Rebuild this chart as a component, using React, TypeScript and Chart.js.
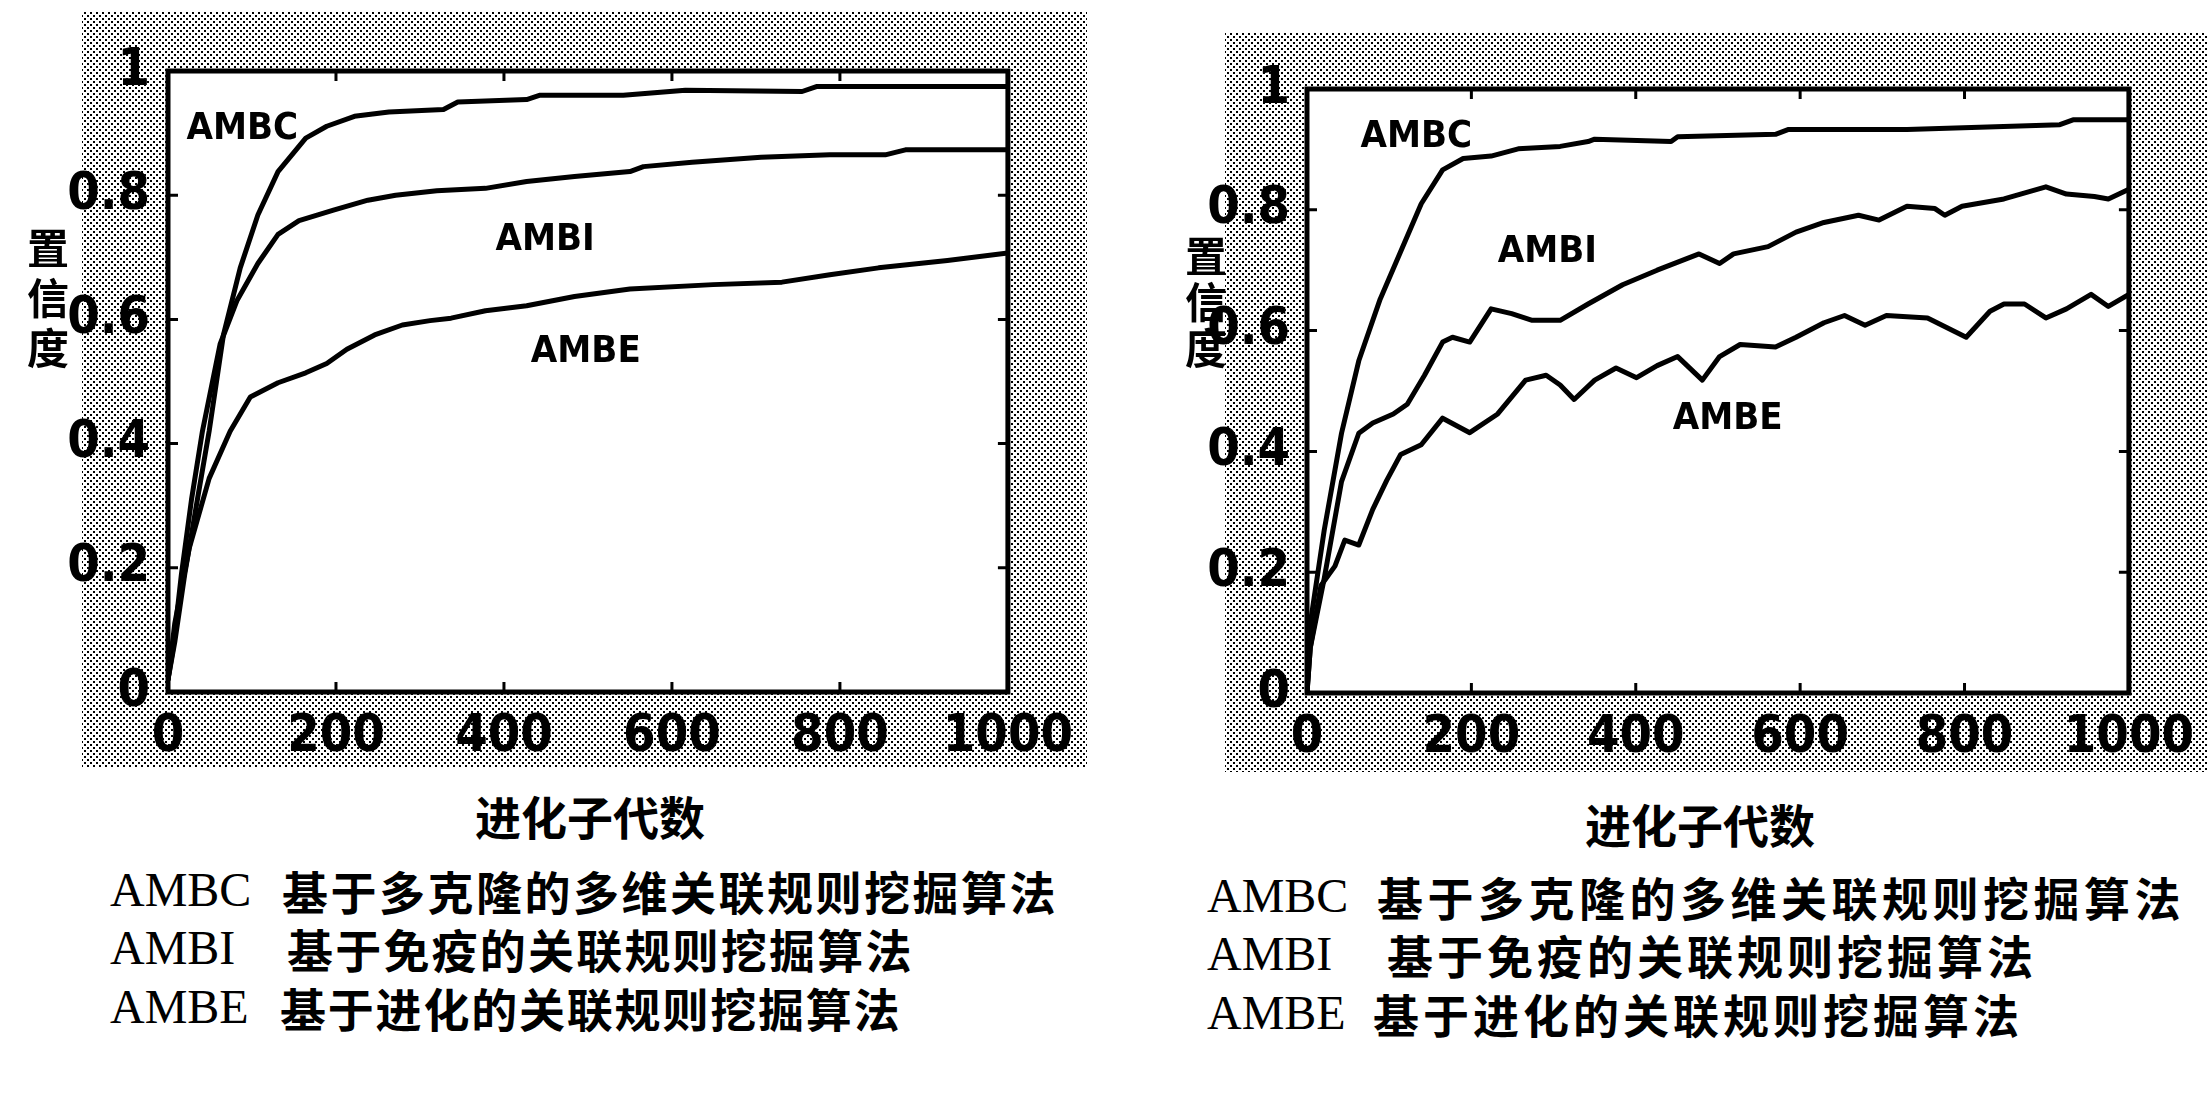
import React, { useEffect, useRef } from "react";
import { Chart, registerables } from "chart.js";
Chart.register(...registerables);

// ---------- data ----------
const seriesNames = ["AMBC", "AMBI", "AMBE"];
const xTickValues = [0, 200, 400, 600, 800, 1000];
const yTickValues = [0, 0.2, 0.4, 0.6, 0.8, 1];

// left panel
const leftAmbcX = [0, 8, 20, 35, 49, 66, 86, 107, 131, 164, 189, 222, 263, 328, 345, 427, 443, 542, 616, 755, 772, 1000];
const leftAmbcY = [0.02, 0.08, 0.19, 0.31, 0.42, 0.575, 0.683, 0.768, 0.838, 0.892, 0.911, 0.927, 0.934, 0.938, 0.95, 0.954, 0.961, 0.961, 0.969, 0.967, 0.975, 0.975];
const leftAmbiX = [0, 6, 16, 28, 41, 62, 82, 107, 131, 156, 197, 238, 271, 320, 378, 427, 484, 550, 566, 624, 706, 788, 854, 878, 1000];
const leftAmbiY = [0.02, 0.07, 0.19, 0.31, 0.42, 0.56, 0.63, 0.69, 0.737, 0.759, 0.776, 0.792, 0.8, 0.807, 0.811, 0.822, 0.83, 0.838, 0.846, 0.853, 0.861, 0.865, 0.865, 0.873, 0.873];
const leftAmbeX = [0, 8, 25, 49, 74, 98, 131, 164, 189, 213, 246, 279, 312, 337, 378, 427, 484, 550, 649, 731, 788, 846, 928, 1000];
const leftAmbeY = [0.02, 0.11, 0.23, 0.344, 0.42, 0.475, 0.498, 0.514, 0.529, 0.552, 0.575, 0.591, 0.598, 0.602, 0.614, 0.622, 0.637, 0.649, 0.656, 0.66, 0.672, 0.683, 0.695, 0.707];
const leftLabelX = [22, 390, 432];
const leftLabelY = [0.907, 0.727, 0.547];

// right panel
const rightAmbcX = [0, 4, 21, 42, 63, 89, 114, 139, 165, 190, 224, 257, 308, 342, 350, 443, 451, 570, 586, 730, 916, 932, 1000];
const rightAmbcY = [0, 0.115, 0.27, 0.43, 0.55, 0.652, 0.731, 0.81, 0.866, 0.885, 0.889, 0.901, 0.905, 0.913, 0.917, 0.913, 0.921, 0.925, 0.933, 0.933, 0.941, 0.949, 0.949];
const rightAmbiX = [0, 4, 21, 42, 63, 80, 105, 122, 143, 165, 177, 198, 224, 249, 274, 308, 342, 384, 426, 477, 502, 519, 561, 595, 629, 671, 696, 730, 764, 776, 797, 848, 899, 924, 958, 975, 1000];
const rightAmbiY = [0, 0.075, 0.19, 0.35, 0.43, 0.447, 0.462, 0.478, 0.526, 0.581, 0.589, 0.581, 0.636, 0.628, 0.617, 0.617, 0.644, 0.676, 0.7, 0.727, 0.711, 0.727, 0.739, 0.763, 0.779, 0.791, 0.783, 0.806, 0.802, 0.791, 0.806, 0.818, 0.838, 0.826, 0.822, 0.818, 0.834];
const rightAmbeX = [0, 4, 17, 34, 46, 63, 80, 97, 114, 139, 165, 198, 232, 266, 291, 308, 325, 350, 376, 401, 426, 451, 481, 502, 527, 570, 595, 629, 654, 679, 705, 755, 802, 831, 848, 873, 899, 924, 954, 975, 1000];
const rightAmbeY = [0, 0.075, 0.178, 0.21, 0.253, 0.245, 0.304, 0.352, 0.395, 0.411, 0.455, 0.431, 0.462, 0.518, 0.526, 0.51, 0.486, 0.518, 0.538, 0.522, 0.542, 0.557, 0.518, 0.557, 0.577, 0.573, 0.589, 0.613, 0.625, 0.609, 0.625, 0.621, 0.589, 0.632, 0.644, 0.644, 0.621, 0.636, 0.66, 0.64, 0.66];
const rightLabelX = [65, 232, 445];
const rightLabelY = [0.92, 0.73, 0.453];

// texts
const yTitleChars = ["置", "信", "度"];
const xTitle = "进化子代数";
const legendCodes = ["AMBC", "AMBI", "AMBE"];
const legendDescs = ["基于多克隆的多维关联规则挖掘算法", "基于免疫的关联规则挖掘算法", "基于进化的关联规则挖掘算法"];

// ---------- helpers ----------
const TICK_FONT = "'Liberation Sans Narrow', 'DejaVu Sans Condensed', 'Liberation Sans', sans-serif";
const CJK_FONT = "'Noto Sans CJK SC', sans-serif";
const SERIF_FONT = "'Liberation Serif', 'DejaVu Serif', serif";

function zip(xs: number[], ys: number[]) {
  return xs.map((x, i) => ({ x, y: ys[i] }));
}

function makePattern(ctx: CanvasRenderingContext2D) {
  const c = document.createElement("canvas");
  c.width = 6;
  c.height = 6;
  const g = c.getContext("2d")!;
  g.fillStyle = "#ffffff";
  g.fillRect(0, 0, 6, 6);
  g.fillStyle = "#000000";
  g.fillRect(0, 0, 2, 2);
  g.fillRect(3, 3, 2, 2);
  return ctx.createPattern(c, "repeat")!;
}

const decorPlugin = {
  id: "decor",
  beforeDraw(chart: any, _args: any, opts: any) {
    const ctx = chart.ctx as CanvasRenderingContext2D;
    const a = chart.chartArea;
    ctx.save();
    ctx.fillStyle = makePattern(ctx);
    ctx.fillRect(opts.grayX, 0, chart.width - opts.grayX, chart.height);
    ctx.fillStyle = "#ffffff";
    ctx.fillRect(a.left, a.top, a.right - a.left, a.bottom - a.top);
    ctx.restore();
  },
  afterDatasetsDraw(chart: any, _args: any, opts: any) {
    const ctx = chart.ctx as CanvasRenderingContext2D;
    const a = chart.chartArea;
    const xs = chart.scales.x;
    const ys = chart.scales.y;
    ctx.save();
    ctx.strokeStyle = "#000";
    ctx.lineWidth = 3;
    const tl = 10;
    xs.ticks.forEach((t: any) => {
      const px = xs.getPixelForValue(t.value);
      ctx.beginPath();
      ctx.moveTo(px, a.bottom);
      ctx.lineTo(px, a.bottom - tl);
      ctx.moveTo(px, a.top);
      ctx.lineTo(px, a.top + tl);
      ctx.stroke();
    });
    ys.ticks.forEach((t: any) => {
      const py = ys.getPixelForValue(t.value);
      ctx.beginPath();
      ctx.moveTo(a.left, py);
      ctx.lineTo(a.left + tl, py);
      ctx.moveTo(a.right, py);
      ctx.lineTo(a.right - tl, py);
      ctx.stroke();
    });
    ctx.lineWidth = 5;
    ctx.strokeRect(a.left, a.top, a.right - a.left, a.bottom - a.top);
    // curve name labels
    ctx.fillStyle = "#000";
    ctx.font = `bold 38px ${TICK_FONT}`;
    ctx.textAlign = "left";
    ctx.textBaseline = "middle";
    const lx: number[] = opts.labelX;
    const ly: number[] = opts.labelY;
    seriesNames.forEach((n, i) => {
      ctx.fillText(n, xs.getPixelForValue(lx[i]), ys.getPixelForValue(ly[i]));
    });
    ctx.restore();
  },
};

type PanelProps = {
  left: number;
  top: number;
  w: number;
  h: number;
  grayX: number;
  padTop: number;
  padRight: number;
  yAxisW: number;
  xAxisH: number;
  yPad: number;
  series: { x: number; y: number }[][];
  labelX: number[];
  labelY: number[];
  lineWidth: number;
};

function Panel(p: PanelProps) {
  const ref = useRef<HTMLCanvasElement>(null);
  useEffect(() => {
    const chart = new Chart(ref.current!, {
      type: "line",
      data: {
        datasets: p.series.map((d, i) => ({
          label: seriesNames[i],
          data: d,
          borderColor: "#000",
          borderWidth: p.lineWidth,
          pointRadius: 0,
          tension: 0,
          fill: false,
          borderJoinStyle: "round" as const,
          borderCapStyle: "round" as const,
        })),
      },
      options: {
        animation: false,
        responsive: false,
        maintainAspectRatio: false,
        devicePixelRatio: 1,
        layout: { padding: { top: p.padTop, right: p.padRight, left: 0, bottom: 0 } },
        plugins: {
          legend: { display: false },
          tooltip: { enabled: false },
          decor: { labelX: p.labelX, labelY: p.labelY, grayX: p.grayX },
        } as any,
        scales: {
          x: {
            type: "linear",
            min: 0,
            max: 1000,
            afterBuildTicks: (s: any) => {
              s.ticks = xTickValues.map((v) => ({ value: v }));
            },
            afterFit: (s: any) => {
              s.height = p.xAxisH;
            },
            ticks: {
              autoSkip: false,
              maxRotation: 0,
              padding: 14,
              color: "#000",
              font: { family: TICK_FONT, size: 52, weight: "bold" },
              callback: (v: any) => String(v),
            },
            grid: { display: false, drawTicks: false },
            border: { display: false },
          },
          y: {
            type: "linear",
            min: 0,
            max: 1,
            afterBuildTicks: (s: any) => {
              s.ticks = yTickValues.map((v) => ({ value: v }));
            },
            afterFit: (s: any) => {
              s.width = p.yAxisW;
            },
            ticks: {
              autoSkip: false,
              padding: p.yPad,
              color: "#000",
              font: { family: TICK_FONT, size: 52, weight: "bold" },
              callback: (v: any) => String(Math.round(Number(v) * 10) / 10),
            },
            grid: { display: false, drawTicks: false },
            border: { display: false },
          },
        },
      },
      plugins: [decorPlugin as any],
    });
    return () => chart.destroy();
  }, []);
  return (
    <canvas
      ref={ref}
      width={p.w}
      height={p.h}
      style={{ position: "absolute", left: p.left, top: p.top, width: p.w, height: p.h }}
    />
  );
}

function YTitle({ left, top, lh }: { left: number; top: number; lh: number }) {
  return (
    <div
      style={{
        position: "absolute",
        left,
        top,
        width: 44,
        fontFamily: CJK_FONT,
        fontWeight: 700,
        fontSize: 42,
        lineHeight: `${lh}px`,
        textAlign: "center",
        color: "#000",
      }}
    >
      {yTitleChars.map((c, i) => (
        <div key={i}>{c}</div>
      ))}
    </div>
  );
}

function Legend({ left, descLeft, tops, spacing }: { left: number; descLeft: number[]; tops: number[]; spacing: number[] }) {
  return (
    <>
      {legendCodes.map((code, i) => (
        <div key={i} style={{ position: "absolute", left, top: tops[i], height: 56, whiteSpace: "nowrap", color: "#000" }}>
          <span style={{ position: "absolute", left: 0, top: 0, fontFamily: SERIF_FONT, fontSize: 48, lineHeight: "56px" }}>{code}</span>
          <span
            style={{
              position: "absolute",
              left: descLeft[i] - left,
              top: 0,
              fontFamily: CJK_FONT,
              fontWeight: 700,
              fontSize: 46,
              lineHeight: "56px",
              letterSpacing: spacing[i],
            }}
          >
            {legendDescs[i]}
          </span>
        </div>
      ))}
    </>
  );
}

export default function App() {
  const leftSeries = [zip(leftAmbcX, leftAmbcY), zip(leftAmbiX, leftAmbiY), zip(leftAmbeX, leftAmbeY)];
  const rightSeries = [zip(rightAmbcX, rightAmbcY), zip(rightAmbiX, rightAmbiY), zip(rightAmbeX, rightAmbeY)];
  return (
    <div style={{ position: "absolute", left: 0, top: 0, width: 2208, height: 1097, background: "#fff", overflow: "hidden" }}>
      <Panel
        left={60}
        top={12}
        w={1027}
        h={755}
        grayX={22}
        padTop={59}
        padRight={60}
        yAxisW={108}
        xAxisH={75}
        yPad={18}
        series={leftSeries}
        labelX={leftLabelX}
        labelY={leftLabelY}
        lineWidth={5}
      />
      <Panel
        left={1200}
        top={33}
        w={1008}
        h={739}
        grayX={25}
        padTop={56}
        padRight={60}
        yAxisW={107}
        xAxisH={79}
        yPad={17}
        series={rightSeries}
        labelX={rightLabelX}
        labelY={rightLabelY}
        lineWidth={5}
      />
      <YTitle left={26} top={221} lh={50} />
      <YTitle left={1184} top={231} lh={46} />
      <div style={{ position: "absolute", left: 590 - 150, top: 815 - 30, width: 300, textAlign: "center", fontFamily: CJK_FONT, fontWeight: 700, fontSize: 46, lineHeight: "60px", color: "#000" }}>
        {xTitle}
      </div>
      <div style={{ position: "absolute", left: 1700 - 150, top: 823 - 30, width: 300, textAlign: "center", fontFamily: CJK_FONT, fontWeight: 700, fontSize: 46, lineHeight: "60px", color: "#000" }}>
        {xTitle}
      </div>
      <Legend left={110} descLeft={[282, 287, 280]} tops={[862, 920, 979]} spacing={[2.5, 2.2, 1.8]} />
      <Legend left={1207} descLeft={[1377, 1387, 1373]} tops={[868, 926, 985]} spacing={[4.5, 4, 4]} />
    </div>
  );
}
